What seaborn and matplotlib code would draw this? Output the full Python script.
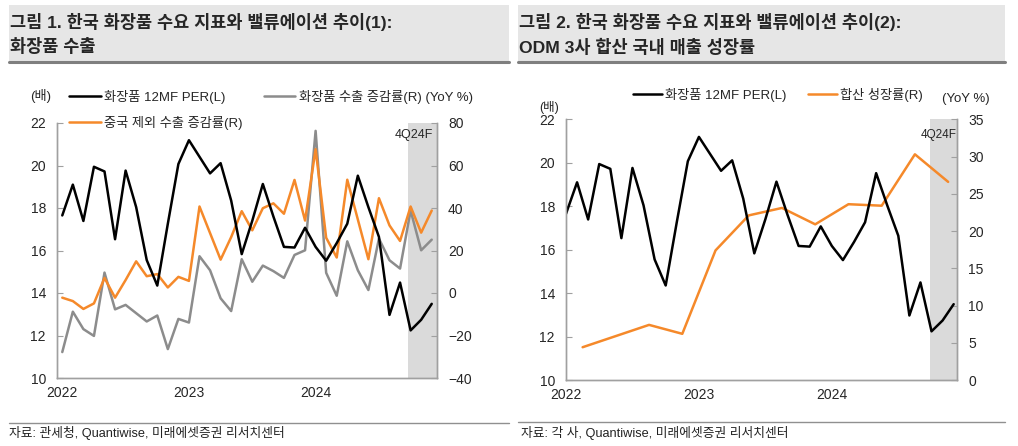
import matplotlib
matplotlib.use("Agg")
import matplotlib.pyplot as plt
import seaborn as sns
import numpy as np
import pandas as pd
from matplotlib.patches import Rectangle
from matplotlib.lines import Line2D

# ---------------- data ----------------
months = pd.date_range("2022-01-01", "2024-12-01", freq="MS")
per_12mf = [17.65, 19.10, 17.39, 19.94, 19.72, 16.53, 19.76, 18.04, 15.55, 14.35, 17.26, 20.07,
            21.19, 20.41, 19.63, 20.11, 18.35, 15.83, 17.40, 19.13, 17.60, 16.17, 16.14, 17.07,
            16.17, 15.52, 16.35, 17.26, 19.52, 18.04, 16.64, 12.97, 14.49, 12.24, 12.74, 13.49]
export_yoy = [-27.8, -8.8, -17.0, -20.2, 9.6, -7.7, -5.6, -9.5, -13.4, -10.6, -26.4, -12.2,
              -13.9, 17.3, 10.7, -2.5, -8.5, 15.9, 5.3, 12.9, 10.3, 7.1, 17.9, 20.1,
              76.3, 9.5, -1.3, 24.3, 10.7, 1.4, 25.6, 15.4, 11.5, 38.8, 20.1, 25.1]
ex_china_yoy = [-2.2, -3.8, -7.5, -4.9, 7.1, -2.2, 6.1, 14.9, 7.9, 8.9, 2.6, 7.6,
                5.7, 40.7, 28.2, 15.7, 26.3, 38.5, 29.5, 39.9, 42.2, 37.3, 53.2, 34.1,
                67.7, 26.0, 16.7, 53.3, 34.6, 15.9, 44.6, 31.8, 24.5, 40.7, 28.4, 38.8]
odm_quarters = ["1Q22", "3Q22", "4Q22", "1Q23", "2Q23", "3Q23", "4Q23",
                "1Q24", "2Q24", "3Q24", "4Q24"]
odm_growth = [4.4, 7.4, 6.2, 17.4, 22.1, 23.1, 20.9, 23.6, 23.4, 30.3, 26.6]
year_labels = ["2022", "2023", "2024"]
forecast_start = "2024-10-01"

W, H = 1018, 446
C_BLACK = "#000000"
C_GREY = "#8c8c8c"
C_ORANGE = "#f5892a"
C_SPINE = "#a0a0a0"
C_SHADE = "#dadada"

sns.set_style("white")
plt.rcParams["font.family"] = ["Liberation Sans", "Noto Sans CJK KR"]
plt.rcParams["axes.unicode_minus"] = True

idx = np.arange(len(months))
fc_idx = int(np.where(months == pd.Timestamp(forecast_start))[0][0])

df = pd.DataFrame({"i": idx, "per": per_12mf, "exp": export_yoy, "exc": ex_china_yoy})

def q_pos(q):
    qn = int(q[0]); yr = int(q[2:]) - 22
    return 12 * yr + 3 * (qn - 1) + 1.5

df_odm = pd.DataFrame({"x": [q_pos(q) for q in odm_quarters], "g": odm_growth})

fig = plt.figure(figsize=(W / 100, H / 100), dpi=100)

def px(x0, y0, x1, y1):
    return [x0 / W, 1 - y1 / H, (x1 - x0) / W, (y1 - y0) / H]

def style_axes(ax, ax2):
    for a in (ax, ax2):
        a.spines["top"].set_visible(False)
        for s in ("left", "right", "bottom"):
            a.spines[s].set_color(C_SPINE)
            a.spines[s].set_linewidth(1.0)
        a.set_xlabel(""); a.set_ylabel("")
        a.grid(False)
    ax.tick_params(axis="y", direction="in", length=4, color=C_SPINE, labelsize=10, pad=8)
    ax2.tick_params(axis="y", direction="in", length=4, color=C_SPINE, labelsize=10, pad=8)
    ax.tick_params(axis="x", which="major", direction="in", length=4, color=C_SPINE, labelsize=10, pad=6)

# ---------------- header / footer ----------------
def header(x0, x1, line1, line2):
    fig.patches.append(Rectangle((x0 / W, 1 - 61 / H), (x1 - x0) / W, 56 / H,
                                 transform=fig.transFigure, facecolor="#e6e6e6",
                                 edgecolor="none", zorder=0))
    fig.lines.append(Line2D([x0 / W, x1 / W], [1 - 62 / H, 1 - 62 / H],
                            transform=fig.transFigure, color="#7f7f7f", lw=2.2))
    fig.text((x0 + 1) / W, 1 - 22 / H, line1, fontsize=12.6, fontweight="bold", va="center", ha="left")
    fig.text((x0 + 1) / W, 1 - 47 / H, line2, fontsize=12.6, fontweight="bold", va="center", ha="left")

def footer(x0, x1, y, text, tx):
    fig.lines.append(Line2D([x0 / W, x1 / W], [1 - y / H, 1 - y / H],
                            transform=fig.transFigure, color="#909090", lw=1))
    fig.text(tx / W, 1 - 433 / H, text, fontsize=9.2, va="center", ha="left", color="#222222")

header(9, 509, "그림 1. 한국 화장품 수요 지표와 밸류에이션 추이(1):", "화장품 수출")
header(518, 1005, "그림 2. 한국 화장품 수요 지표와 밸류에이션 추이(2):", "ODM 3사 합산 국내 매출 성장률")
footer(9, 509, 423, "자료: 관세청, Quantiwise, 미래에셋증권 리서치센터", 9)
footer(518, 1005, 422, "자료: 각 사, Quantiwise, 미래에셋증권 리서치센터", 521)

# ---------------- left chart ----------------
axL = fig.add_axes(px(57, 123, 437, 378))
axL2 = axL.twinx()
dL = df.assign(x=df["i"] + 0.5)
axL2.axvspan(fc_idx + 0.25, len(months), color=C_SHADE, zorder=0, lw=0)
sns.lineplot(data=dL, x="x", y="per", ax=axL, color=C_BLACK, linewidth=1.8, legend=False)
sns.lineplot(data=dL, x="x", y="exp", ax=axL2, color=C_GREY, linewidth=1.8, legend=False)
sns.lineplot(data=dL, x="x", y="exc", ax=axL2, color=C_ORANGE, linewidth=1.8, legend=False)
axL.set_xlim(0, len(months))
axL.set_ylim(10, 22)
axL.set_yticks(np.arange(10, 23, 2))
axL2.set_ylim(-40, 80)
axL2.set_yticks(np.arange(-40, 81, 20))
axL.set_xticks([0, 12, 24])
axL.set_xticklabels([])
axL.set_xticks([0.5, 12.5, 24.5], minor=True)
axL.set_xticklabels(year_labels, minor=True)
style_axes(axL, axL2)
axL.tick_params(axis="x", which="minor", length=0, labelsize=10, pad=6)
axL.set_zorder(axL2.get_zorder() + 1)
axL.patch.set_visible(False)
axL.text(35.6, 0.953, "4Q24F", transform=axL.get_xaxis_transform(), ha="right", va="center", fontsize=9)

hL = [Line2D([], [], color=C_BLACK, lw=1.8), Line2D([], [], color=C_ORANGE, lw=1.8),
      Line2D([], [], color=C_GREY, lw=1.8)]
lL = ["화장품 12MF PER(L)", "중국 제외 수출 증감률(R)", "화장품 수출 증감률(R) (YoY %)"]
fig.legend(hL, lL, loc="center left", bbox_to_anchor=(69 / W, 1 - 110 / H), ncol=2,
           frameon=False, fontsize=9.5, handlelength=2.4, handletextpad=0.25,
           columnspacing=1.6, labelspacing=0.9, borderpad=0, borderaxespad=0)
fig.text(30 / W, 1 - 96 / H, "(배)", fontsize=9.5, va="center", ha="left")

# ---------------- right chart ----------------
axR = fig.add_axes(px(566, 119.3, 957, 380))
axR2 = axR.twinx()
axR2.axvspan(fc_idx - 0.15, 35.3, color=C_SHADE, zorder=0, lw=0)
sns.lineplot(data=df, x="i", y="per", ax=axR, color=C_BLACK, linewidth=1.8, legend=False)
sns.lineplot(data=df_odm, x="x", y="g", ax=axR2, color=C_ORANGE, linewidth=1.8, legend=False)
axR.set_xlim(0, 35.3)
axR.set_ylim(10, 22)
axR.set_yticks(np.arange(10, 23, 2))
axR2.set_ylim(0, 35)
axR2.set_yticks(np.arange(0, 36, 5))
axR.set_xticks([0, 12, 24])
axR.set_xticklabels(year_labels)
style_axes(axR, axR2)
axR.set_zorder(axR2.get_zorder() + 1)
axR.patch.set_visible(False)
axR.text(35.25, 0.94, "4Q24F", transform=axR.get_xaxis_transform(), ha="right", va="center", fontsize=8.5)

hR = [Line2D([], [], color=C_BLACK, lw=1.8), Line2D([], [], color=C_ORANGE, lw=1.8)]
lR = ["화장품 12MF PER(L)", "합산 성장률(R)"]
fig.legend(hR, lR, loc="center left", bbox_to_anchor=(633 / W, 1 - 95 / H), ncol=2,
           frameon=False, fontsize=9.5, handlelength=2.2, handletextpad=0.25,
           columnspacing=1.6, borderpad=0, borderaxespad=0)
fig.text(539 / W, 1 - 107.5 / H, "(배)", fontsize=9, va="center", ha="left")
fig.text(942 / W, 1 - 99 / H, "(YoY %)", fontsize=9.5, va="center", ha="left")

fig.savefig("out.png", dpi=100)
